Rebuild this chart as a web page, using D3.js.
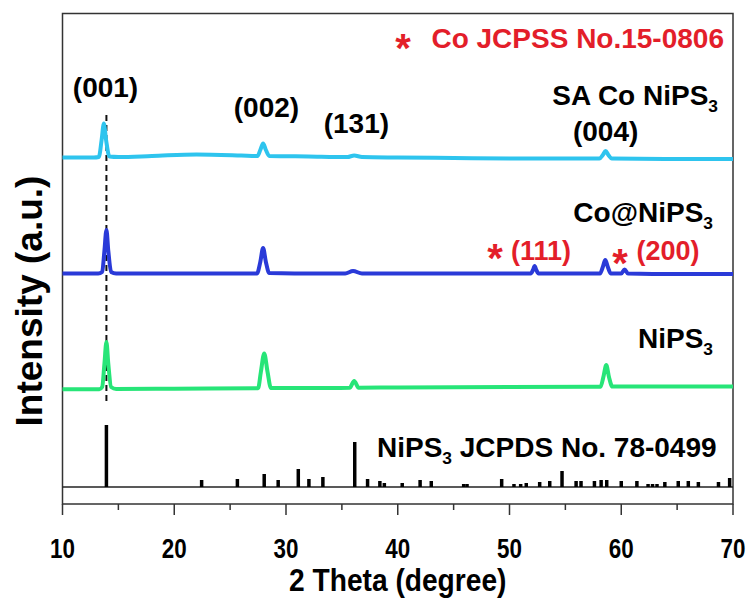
<!DOCTYPE html>
<html>
<head>
<meta charset="utf-8">
<script src="https://cdn.jsdelivr.net/npm/d3@7"></script>
<style>
  body { margin: 0; background: #fff; }
  text { font-family: "Liberation Sans", Arial, sans-serif; font-weight: bold; }
</style>
</head>
<body>
<svg id="chart" width="751" height="599"></svg>
<script>
// ---- data (2 theta in degree, intensity in a.u. above each trace's own offset) ----
const xTicks = [10, 15, 20, 25, 30, 35, 40, 45, 50, 55, 60, 65, 70];
const xTickLabels = [10, 20, 30, 40, 50, 60, 70];

const saCoNiPS3 = [
  [10, 2.5], [12.8, 2.5], [13.25, 3], [13.5, 20], [13.7, 36.5], [13.9, 20], [14.2, 3.5], [15, 3],
  [18, 4], [22, 5.5], [26, 4.5], [27.45, 4], [27.7, 10], [27.95, 16.5], [28.2, 10], [28.5, 4],
  [32, 3.5], [35.5, 3], [36.1, 4.5], [36.8, 3], [40, 2.5], [45, 2], [50, 1.5],
  [58.05, 1.5], [58.35, 5], [58.6, 9], [58.85, 5], [59.15, 1.5], [64, 1], [70, 1]
];
const coAtNiPS3 = [
  [10, 2.5], [13.2, 2.5], [13.55, 4], [13.75, 25], [13.93, 46], [14.1, 25], [14.35, 4], [14.8, 2.5],
  [20, 2.5], [27.4, 2.5], [27.7, 14], [27.95, 28], [28.2, 14], [28.5, 3], [33, 2.5],
  [35.3, 2.5], [36.0, 5], [36.8, 2.5], [45, 2.5], [51.9, 2.5], [52.1, 6], [52.25, 10], [52.4, 6], [52.6, 2.5],
  [58.1, 2.5], [58.35, 9], [58.57, 16], [58.8, 9], [59.05, 2.5], [60.0, 2.5], [60.3, 6.5], [60.6, 2.5],
  [65, 2], [70, 2]
];
const niPS3 = [
  [10, 2.7], [13.3, 2.8], [13.55, 5], [13.75, 28], [13.93, 50], [14.1, 28], [14.35, 5], [14.8, 3],
  [20, 3.3], [27.5, 3.8], [27.75, 20], [28.05, 38.5], [28.35, 20], [28.65, 4], [34, 4],
  [35.7, 4.2], [36.1, 11], [36.5, 4.3], [40, 4.5], [50, 5],
  [58.15, 5.3], [58.4, 15], [58.66, 27], [58.9, 15], [59.2, 5.5], [65, 5.5], [70, 5.5]
];
// NiPS3 JCPDS No. 78-0499 reference lines
const jcpdsPos = [13.93, 22.45, 25.65, 28.05, 29.3, 31.1, 32.05, 33.3, 36.15, 37.3, 38.4, 38.8, 40.4, 42.0,
  43.0, 45.9, 46.2, 49.3, 50.4, 51.0, 51.5, 52.7, 53.6, 54.7, 55.96, 56.4, 57.6, 58.2, 58.7, 60.0,
  61.4, 62.4, 62.8, 63.2, 63.9, 65.1, 66.0, 66.9, 68.7, 69.7];
const jcpdsInt = [62, 7, 8, 13, 7, 18, 8, 10, 45, 8, 6, 4, 4, 7,
  6, 3, 3, 8, 3, 3, 4, 5, 6, 16, 6, 6, 6, 7, 7, 6,
  6, 3, 3, 3, 5, 6, 6, 5, 5, 9];

const offsets = { jcpds: 17, niPS3: 112, coAtNiPS3: 228, saCoNiPS3: 344 };
const colors = { saCoNiPS3: '#2ec4ee', coAtNiPS3: '#2a3ad8', niPS3: '#27e578' };
const red = '#e31e2a';

// ---- layout ----
const svg = d3.select('#chart');
const plotLeft = 62.5, plotRight = 733, plotTop = 13.5, plotBottom = 504;

const x = d3.scaleLinear().domain([10, 70]).range([plotLeft, plotRight]);
const y = d3.scaleLinear().domain([0, 490.5]).range([plotBottom, plotTop]);

// frame
svg.append('rect')
    .attr('x', plotLeft).attr('y', plotTop)
    .attr('width', plotRight - plotLeft).attr('height', plotBottom - plotTop)
    .attr('fill', 'none').attr('stroke', '#333').attr('stroke-width', 1.5);

// baseline of the reference pattern
svg.append('line')
    .attr('x1', plotLeft).attr('x2', plotRight)
    .attr('y1', y(offsets.jcpds)).attr('y2', y(offsets.jcpds))
    .attr('stroke', '#222').attr('stroke-width', 1.5);

// bottom axis (condensed bold labels)
const axis = svg.append('g').attr('transform', `translate(0,${plotBottom})`);
axis.selectAll('line.tick')
    .data(xTicks)
    .join('line')
    .attr('class', 'tick')
    .attr('x1', d => x(d)).attr('x2', d => x(d))
    .attr('y1', 0).attr('y2', d => d % 10 === 0 ? 11 : 6)
    .attr('stroke', '#333').attr('stroke-width', 1.5);
axis.selectAll('text.lbl')
    .data(xTickLabels)
    .join('text')
    .attr('class', 'lbl')
    .attr('transform', d => `translate(${x(d)},53.5) scale(0.8,1)`)
    .attr('text-anchor', 'middle')
    .style('font-size', '28px')
    .text(d => d);

svg.append('text')
    .attr('transform', `translate(${(plotLeft + plotRight) / 2},591) scale(0.88,1)`)
    .attr('text-anchor', 'middle')
    .style('font-size', '32px')
    .text('2 Theta (degree)');

svg.append('text')
    .attr('transform', 'translate(41.5,301) rotate(-90)')
    .attr('text-anchor', 'middle')
    .style('font-size', '37px')
    .text('Intensity (a.u.)');

// dashed guide at (001)
svg.append('line')
    .attr('x1', x(13.93)).attr('x2', x(13.93))
    .attr('y1', 115).attr('y2', 402)
    .attr('stroke', '#111').attr('stroke-width', 2)
    .attr('stroke-dasharray', '6,4');

// reference sticks
svg.selectAll('line.stick')
    .data(jcpdsPos.map((p, i) => [p, jcpdsInt[i]]))
    .join('line')
    .attr('class', 'stick')
    .attr('x1', d => x(d[0])).attr('x2', d => x(d[0]))
    .attr('y1', y(offsets.jcpds)).attr('y2', d => y(offsets.jcpds + d[1]))
    .attr('stroke', '#000').attr('stroke-width', 3.5);

// traces
const traces = [
  { key: 'niPS3', data: niPS3 },
  { key: 'coAtNiPS3', data: coAtNiPS3 },
  { key: 'saCoNiPS3', data: saCoNiPS3 }
];
traces.forEach(t => {
  const line = d3.line()
      .x(d => x(d[0]))
      .y(d => y(offsets[t.key] + d[1]))
      .curve(d3.curveMonotoneX);
  svg.append('path')
      .datum(t.data)
      .attr('d', line)
      .attr('fill', 'none')
      .attr('stroke', colors[t.key])
      .attr('stroke-width', 4)
      .attr('stroke-linejoin', 'round');
});

// helper for labels with a subscript 3
function formula(xPos, yPos, base, size, rest) {
  const t = svg.append('text')
      .attr('x', xPos).attr('y', yPos)
      .attr('text-anchor', rest ? 'start' : 'end')
      .style('font-size', size + 'px');
  t.append('tspan').text(base);
  t.append('tspan').attr('dy', size * 0.25).style('font-size', (size * 0.62) + 'px').text('3');
  if (rest) t.append('tspan').attr('dy', -size * 0.25).text(rest);
  return t;
}

// hkl labels
const hklLabels = [
  { text: '(001)', x: 13.85, y: 97 },
  { text: '(002)', x: 28.25, y: 117 },
  { text: '(131)', x: 36.3, y: 133 },
  { text: '(004)', x: 58.6, y: 141 }
];
svg.selectAll('text.hkl')
    .data(hklLabels)
    .join('text')
    .attr('class', 'hkl')
    .attr('x', d => x(d.x))
    .attr('y', d => d.y)
    .attr('text-anchor', 'middle')
    .style('font-size', '28px')
    .text(d => d.text);

// sample names
formula(718, 105, 'SA Co NiPS', 28);
formula(713, 222, 'Co@NiPS', 28);
formula(713, 348, 'NiPS', 28);

// JCPDS label
formula(377, 457, 'NiPS', 28, ' JCPDS No. 78-0499');

// Co phase labels (red)
function star(xPos, yPos) {
  svg.append('text')
      .attr('x', xPos).attr('y', yPos)
      .attr('text-anchor', 'middle')
      .attr('fill', red)
      .style('font-size', '40px')
      .text('*');
}
star(403, 62);
svg.append('text')
    .attr('x', 724).attr('y', 48)
    .attr('text-anchor', 'end')
    .attr('fill', red)
    .style('font-size', '28px')
    .text('Co JCPSS No.15-0806');

star(495, 272);
svg.append('text').attr('x', 541).attr('y', 260).attr('text-anchor', 'middle')
    .attr('fill', red).style('font-size', '27px').text('(111)');
star(620, 277);
svg.append('text').attr('x', 668).attr('y', 260).attr('text-anchor', 'middle')
    .attr('fill', red).style('font-size', '27px').text('(200)');
</script>
</body>
</html>
